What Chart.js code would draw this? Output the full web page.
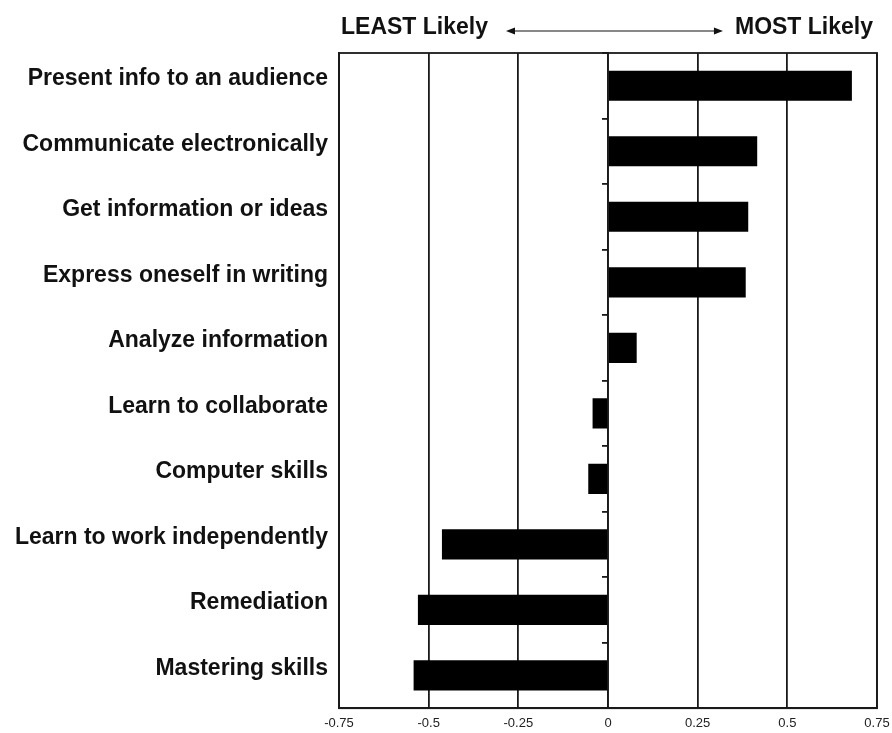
<!DOCTYPE html>
<html><head><meta charset="utf-8">
<script src="https://cdn.jsdelivr.net/npm/chart.js@4.4.1/dist/chart.umd.min.js"></script>
<style>html,body{margin:0;padding:0;background:#fff}#wrap{width:892px;height:733px}</style>
</head><body><div id="wrap"><canvas id="c" width="892" height="733"></canvas></div>
<script>
const categories = [
  'Present info to an audience',
  'Communicate electronically',
  'Get information or ideas',
  'Express oneself in writing',
  'Analyze information',
  'Learn to collaborate',
  'Computer skills',
  'Learn to work independently',
  'Remediation',
  'Mastering skills'
];
const values = [0.68, 0.416, 0.391, 0.384, 0.08, -0.043, -0.055, -0.463, -0.53, -0.542];
const headerLeft = 'LEAST Likely';
const headerRight = 'MOST Likely';
const xMin = -0.75, xMax = 0.75, xStep = 0.25;

const LINE = '#1a1a1a';
const FONT = '"Liberation Sans", Arial, sans-serif';

const headerPlugin = {
  id: 'header',
  afterDraw(chart) {
    const { ctx, chartArea: a } = chart;
    ctx.save();
    ctx.fillStyle = '#111';
    ctx.font = 'bold 23px ' + FONT;
    ctx.textBaseline = 'middle';
    const ty = a.top - 25;
    ctx.textAlign = 'left';
    ctx.fillText(headerLeft, a.left + 2, ty);
    const lw = ctx.measureText(headerLeft).width;
    ctx.textAlign = 'right';
    ctx.fillText(headerRight, a.right - 4, ty);
    const rw = ctx.measureText(headerRight).width;
    const x1 = a.left + 2 + lw + 18, x2 = a.right - 4 - rw - 12, ay = a.top - 22;
    ctx.strokeStyle = '#111'; ctx.lineWidth = 1.2;
    ctx.beginPath(); ctx.moveTo(x1 + 4, ay); ctx.lineTo(x2 - 4, ay); ctx.stroke();
    ctx.beginPath(); ctx.moveTo(x1, ay); ctx.lineTo(x1 + 9, ay - 3.5); ctx.lineTo(x1 + 9, ay + 3.5); ctx.closePath(); ctx.fill();
    ctx.beginPath(); ctx.moveTo(x2, ay); ctx.lineTo(x2 - 9, ay - 3.5); ctx.lineTo(x2 - 9, ay + 3.5); ctx.closePath(); ctx.fill();
    ctx.strokeStyle = LINE; ctx.lineWidth = 1.8;
    ctx.strokeRect(a.left, a.top, a.right - a.left, a.bottom - a.top);
    ctx.restore();
  }
};

new Chart(document.getElementById('c'), {
  type: 'bar',
  data: {
    labels: categories,
    datasets: [{
      data: values,
      backgroundColor: '#000',
      borderWidth: 0,
      barPercentage: 0.46,
      categoryPercentage: 1,
      yAxisID: 'y'
    }]
  },
  options: {
    indexAxis: 'y',
    responsive: false,
    animation: false,
    layout: { padding: { top: 53, right: 15, left: 0, bottom: 0 } },
    plugins: { legend: { display: false }, tooltip: { enabled: false }, title: { display: false } },
    scales: {
      x: {
        type: 'linear',
        min: xMin, max: xMax,
        ticks: {
          stepSize: xStep, color: '#222',
          font: { family: '"Liberation Sans Narrow", ' + FONT, size: 13 }, padding: 7,
          callback: (v) => String(Number(Number(v).toFixed(2)))
        },
        grid: { color: LINE, lineWidth: 1.8, drawTicks: false },
        border: { display: true, color: LINE, width: 1.8 },
        afterFit(s) { s.height = 23; s.paddingLeft = 0; s.paddingRight = 0; }
      },
      y: {
        type: 'category',
        ticks: { color: '#111', font: { family: FONT, size: 23, weight: 'bold' }, padding: 11, labelOffset: -7 },
        grid: { display: false, drawTicks: false },
        border: { display: true, color: LINE, width: 1.8 },
        afterFit(s) { s.width = 339; }
      },
      y2: {
        type: 'category',
        position: { x: 0 },
        ticks: { display: false },
        grid: { offset: true, drawOnChartArea: false, drawTicks: true, tickLength: 5, color: LINE, lineWidth: 1.8 },
        border: { display: true, color: LINE, width: 1.8 }
      }
    }
  },
  plugins: [headerPlugin]
});
</script>
</body></html>
